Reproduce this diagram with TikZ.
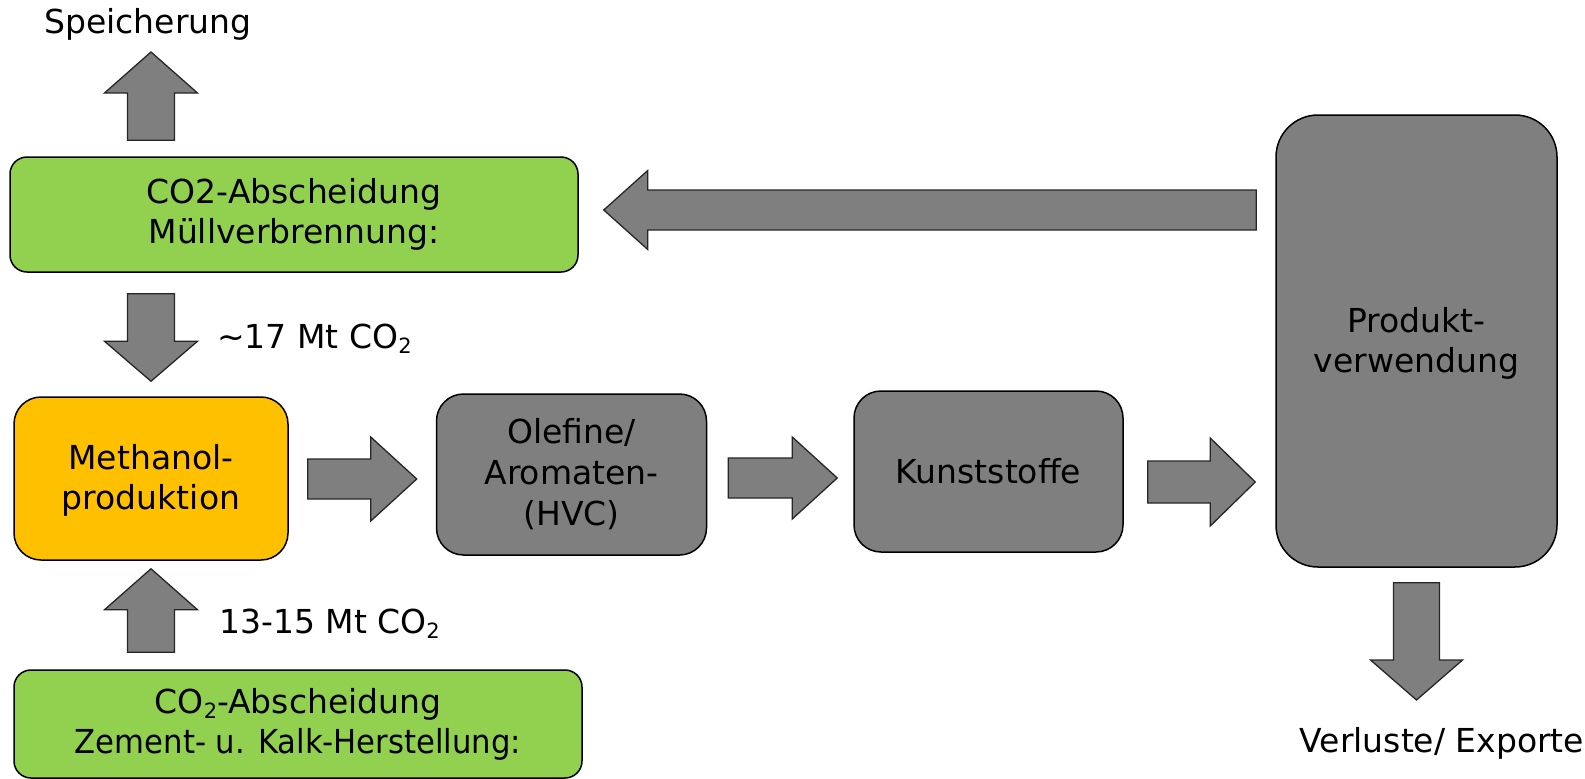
\documentclass[tikz,border=0pt]{standalone}
\usepackage{fontspec}
\setmainfont{DejaVu Sans}
\usetikzlibrary{calc}
\definecolor{boxgreen}{HTML}{92D050}
\definecolor{boxorange}{HTML}{FFC000}
\definecolor{boxgray}{HTML}{7F7F7F}
\newcommand\lowtwo{\raisebox{-0.3ex}{\fontsize{21}{21}\selectfont 2}}
% block arrow: #1 tail, #2 tip, #3 shaft half width, #4 head half width, #5 head length
\newcommand\barrow[5]{%
  \coordinate (hb) at ($(#2)!#5!(#1)$);
  \draw[blockarrow] ($(#1)!#3!90:(#2)$) -- ($(hb)!#3!90:(#2)$) -- ($(hb)!#4!90:(#2)$) -- (#2)
    -- ($(hb)!#4!-90:(#2)$) -- ($(hb)!#3!-90:(#2)$) -- ($(#1)!#3!-90:(#2)$) -- cycle;
}
\begin{document}
\begin{tikzpicture}[x=1pt,y=-1pt,
  font=\fontsize{33}{40}\selectfont,
  box/.style={draw=black, line width=1.5pt, inner sep=0pt, align=center, text=black},
  greenbox/.style={box, fill=boxgreen, rounded corners=17pt},
  orangebox/.style={box, fill=boxorange, rounded corners=27pt},
  graybox/.style={box, fill=boxgray, rounded corners=27pt},
  lbl/.style={inner sep=0pt, text=black},
  blockarrow/.style={fill=boxgray, draw=black!85, line width=1.3pt, line join=miter}]
\useasboundingbox (0,0) rectangle (1585,779);

% boxes
\node[greenbox, minimum width=568pt, minimum height=115pt] (gb1) at (294,214.5)
  {CO2-Abscheidung\\Müllverbrennung:};
\node[orangebox, minimum width=274pt, minimum height=163pt] (meth) at (151,478.5)
  {\rule{0pt}{29pt}Methanol-\\produktion};
\node[greenbox, minimum width=568pt, minimum height=108pt] (gb2) at (298,724)
  {CO\lowtwo-Abscheidung\\\scalebox{0.93}[1]{Zement- u. Kalk-Herstellung:}};
\node[graybox, minimum width=270pt, minimum height=161pt] (olef) at (571.5,474.5)
  {Olefine/\\[1pt]Aromaten-\\[1pt](HVC)};
\node[graybox, minimum width=269pt, minimum height=161pt] (kunst) at (988.5,471.5)
  {Kunststoffe};
\node[graybox, rounded corners=42pt, minimum width=281pt, minimum height=452pt] (prod) at (1416.5,341)
  {\rule{0pt}{29pt}Produkt-\\verwendung};

% free labels
\node[lbl, anchor=base] (spei) at (148,33) {Speicherung};
\node[lbl, anchor=base] (verl) at (1442,752) {Verluste/ Exporte};
\node[lbl, anchor=base west] (l17) at (217,348) {\textasciitilde17 Mt CO\lowtwo};
\node[lbl, anchor=base west] (l13) at (219,633) {13-15 Mt CO\lowtwo};

% arrow end points
\coordinate (u1a) at ($(gb1.north -| meth.center)+(0,-16)$);
\coordinate (u1b) at (meth.center |- 0,52);
\coordinate (d1a) at ($(gb1.south -| meth.center)+(0,21)$);
\coordinate (d1b) at ($(meth.north)+(0,-15)$);
\coordinate (u2a) at ($(gb2.north -| meth.center)+(0,-17)$);
\coordinate (u2b) at ($(meth.south)+(0,8)$);
\coordinate (r1a) at ($(meth.east)+(19,0.5)$);
\coordinate (r1b) at ($(olef.west |- r1a)+(-19,0)$);
\coordinate (r2a) at ($(olef.east)+(21,3.5)$);
\coordinate (r2b) at ($(kunst.west |- r2a)+(-16,0)$);
\coordinate (r3a) at ($(kunst.east)+(24,10.5)$);
\coordinate (r3b) at ($(prod.west |- r3a)+(-20,0)$);
\coordinate (la) at ($(prod.west |- gb1.center)+(-19,-4.5)$);
\coordinate (lb) at ($(gb1.east |- la)+(25,0)$);
\coordinate (d2a) at ($(prod.south)+(0,15)$);
\coordinate (d2b) at (prod.south |- 0,700);

% arrows
\barrow{u1a}{u1b}{23.5pt}{46.5pt}{41pt}
\barrow{d1a}{d1b}{23.5pt}{46.5pt}{40pt}
\barrow{u2a}{u2b}{23.5pt}{46.5pt}{41pt}
\barrow{r1a}{r1b}{20pt}{42pt}{46pt}
\barrow{r2a}{r2b}{20pt}{41pt}{45pt}
\barrow{r3a}{r3b}{21pt}{44pt}{45pt}
\barrow{la}{lb}{20pt}{39.5pt}{44pt}
\barrow{d2a}{d2b}{23pt}{46pt}{40pt}
\end{tikzpicture}
\end{document}
